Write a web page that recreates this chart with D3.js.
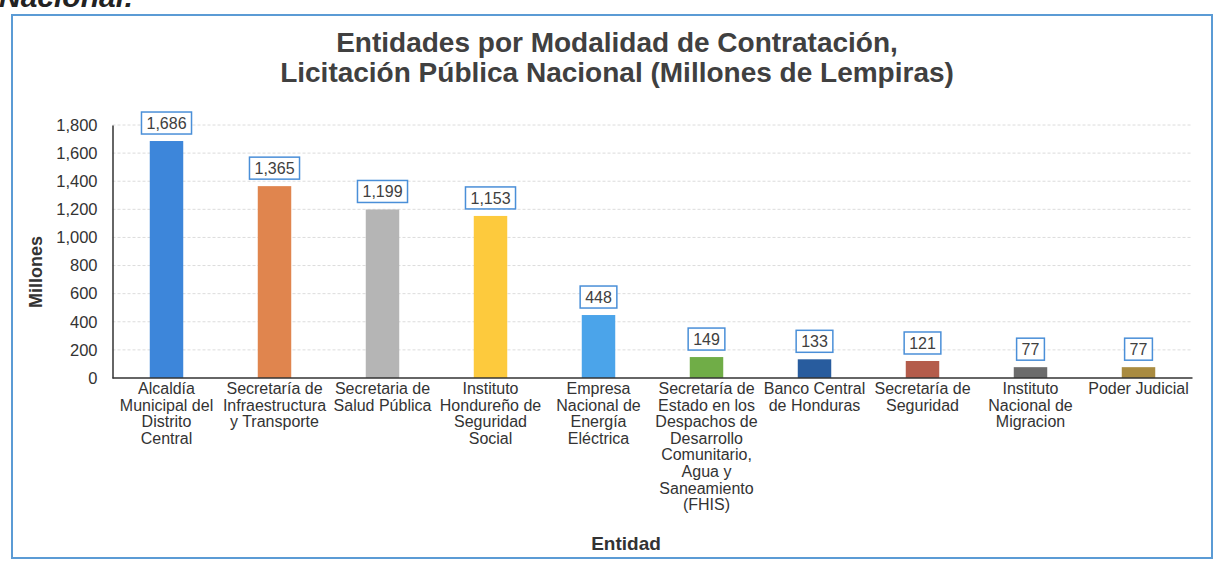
<!DOCTYPE html>
<html lang="es">
<head>
    <meta charset="UTF-8">
    <title>Entidades por Modalidad de Contratación</title>
    <script src="https://d3js.org/d3.v7.min.js"></script>
    <style>
        body { margin: 0; background: #fff; }
        svg { font-family: "Liberation Sans", Arial, sans-serif; }
    </style>
</head>
<body>
    <svg width="1217" height="561"></svg>

    <script>
        // Entities (each label split into its wrapped lines)
        const entidades = [
            ["Alcaldía", "Municipal del", "Distrito", "Central"],
            ["Secretaría de", "Infraestructura", "y Transporte"],
            ["Secretaria de", "Salud Pública"],
            ["Instituto", "Hondureño de", "Seguridad", "Social"],
            ["Empresa", "Nacional de", "Energía", "Eléctrica"],
            ["Secretaría de", "Estado en los", "Despachos de", "Desarrollo", "Comunitario,", "Agua y", "Saneamiento", "(FHIS)"],
            ["Banco Central", "de Honduras"],
            ["Secretaría de", "Seguridad"],
            ["Instituto", "Nacional de", "Migracion"],
            ["Poder Judicial"]
        ];
        const montos = [1686, 1365, 1199, 1153, 448, 149, 133, 121, 77, 77];
        const colores = ["#3d86da", "#e0854e", "#b5b5b5", "#fdca3d", "#4ba4ea",
                         "#70ad47", "#285c9e", "#b45c4b", "#6c6c6c", "#a98b40"];
        const yTicks = [0, 200, 400, 600, 800, 1000, 1200, 1400, 1600, 1800];

        const svg = d3.select("svg");
        const plot = { left: 112.5, right: 1192.5, top: 125, bottom: 378 };

        // outer frame
        svg.append("rect")
            .attr("x", 12).attr("y", 15)
            .attr("width", 1200).attr("height", 543)
            .attr("fill", "none")
            .attr("stroke", "#5b9bd5")
            .attr("stroke-width", 2);

        // cut-off heading from the page above
        svg.append("text")
            .attr("x", -1).attr("y", 7)
            .attr("font-size", 30).attr("font-weight", "bold").attr("font-style", "italic")
            .attr("fill", "#222")
            .text("Nacional:");

        // title
        const title = svg.append("text")
            .attr("text-anchor", "middle")
            .attr("font-size", 28).attr("font-weight", "bold")
            .attr("fill", "#404040");
        title.append("tspan").attr("x", 617).attr("y", 52).text("Entidades por Modalidad de Contratación,");
        title.append("tspan").attr("x", 617).attr("y", 82).text("Licitación Pública Nacional (Millones de Lempiras)");

        const x = d3.scaleBand()
            .domain(d3.range(entidades.length))
            .range([plot.left, plot.right])
            .paddingInner(0.69)
            .paddingOuter(0.345);

        const y = d3.scaleLinear()
            .domain([0, 1800])
            .range([plot.bottom, plot.top]);

        // gridlines
        svg.append("g")
            .selectAll("line")
            .data(yTicks.slice(1))
            .join("line")
            .attr("x1", plot.left).attr("x2", plot.right)
            .attr("y1", d => y(d)).attr("y2", d => y(d))
            .attr("stroke", "#dcdcdc")
            .attr("stroke-dasharray", "3,2");

        // y axis
        const yAxis = svg.append("g")
            .attr("transform", `translate(${plot.left},0)`)
            .call(d3.axisLeft(y).tickValues(yTicks).tickSize(0).tickPadding(15)
                .tickFormat(d3.format(",")));
        yAxis.select(".domain").attr("stroke", "#333").attr("stroke-width", 1.5);
        yAxis.selectAll("text")
            .attr("font-size", 16.5).attr("fill", "#333")
            .attr("font-family", "Liberation Sans, Arial, sans-serif");

        // bars
        svg.append("g")
            .selectAll("rect")
            .data(montos)
            .join("rect")
            .attr("x", (d, i) => x(i))
            .attr("y", d => y(d))
            .attr("width", x.bandwidth())
            .attr("height", d => y(0) - y(d))
            .attr("fill", (d, i) => colores[i]);

        // x axis line
        svg.append("line")
            .attr("x1", plot.left).attr("x2", plot.right)
            .attr("y1", y(0)).attr("y2", y(0))
            .attr("stroke", "#333").attr("stroke-width", 1.5);

        // value labels in boxes
        const labels = svg.append("g")
            .selectAll("g")
            .data(montos)
            .join("g")
            .attr("transform", (d, i) => `translate(${x(i) + x.bandwidth() / 2},${y(d) - 18})`);

        labels.append("text")
            .attr("text-anchor", "middle")
            .attr("dy", "0.36em")
            .attr("font-size", 16)
            .attr("fill", "#404040")
            .text(d => d3.format(",")(d));

        labels.each(function () {
            const g = d3.select(this);
            const w = g.select("text").node().getComputedTextLength() + 10;
            g.insert("rect", "text")
                .attr("x", -w / 2).attr("y", -11)
                .attr("width", w).attr("height", 22)
                .attr("fill", "#fff")
                .attr("stroke", "#4a8fd8")
                .attr("stroke-width", 1.5);
        });

        // category labels
        const cat = svg.append("g")
            .selectAll("text")
            .data(entidades)
            .join("text")
            .attr("text-anchor", "middle")
            .attr("font-size", 16)
            .attr("fill", "#333");
        cat.each(function (lines, i) {
            d3.select(this).selectAll("tspan")
                .data(lines)
                .join("tspan")
                .attr("x", x(i) + x.bandwidth() / 2)
                .attr("y", (d, k) => 394 + k * 16.6)
                .text(d => d);
        });

        // axis titles
        svg.append("text")
            .attr("transform", "translate(42,272) rotate(-90)")
            .attr("text-anchor", "middle")
            .attr("font-size", 18).attr("font-weight", "bold")
            .attr("fill", "#333")
            .text("Millones");

        svg.append("text")
            .attr("x", 626).attr("y", 550)
            .attr("text-anchor", "middle")
            .attr("font-size", 19).attr("font-weight", "bold")
            .attr("fill", "#333")
            .text("Entidad");
    </script>
</body>
</html>
